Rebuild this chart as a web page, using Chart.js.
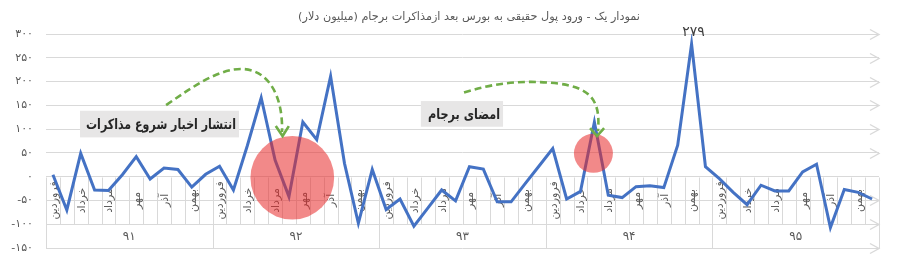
<!DOCTYPE html>
<html><head><meta charset="utf-8">
<script src="https://cdn.jsdelivr.net/npm/chart.js@4.4.1/dist/chart.umd.min.js"></script>
<style>html,body{margin:0;padding:0;background:#fff;} canvas{display:block;}</style>
</head><body>
<canvas id="c" width="900" height="268"></canvas>
<script>
const chartTitle = 'نمودار یک - ورود پول حقیقی به بورس بعد ازمذاکرات برجام (میلیون دلار)';
const months = ['فروردین','اردیبهشت','خرداد','تیر','مرداد','شهریور','مهر','آبان','آذر','دی','بهمن','اسفند'];
const years = ['۹۱','۹۲','۹۳','۹۴','۹۵'];
const values91 = [4, -70, 49, -28, -29, 4, 42, -5, 18, 15, -22, 5];
const values92 = [22, -28, 65, 166, 35, -42, 115, 78, 211, 28, -98, 15];
const values93 = [-69, -47, -104, -66, -28, -51, 21, 16, -53, -53, -15, 22];
const values94 = [59, -47, -31, 115, -39, -44, -21, -19, -23, 66, 279, 21];
const values95 = [-4, -33, -59, -18, -30, -30, 10, 26, -107, -27, -33, -47];
const yTicks = [300, 250, 200, 150, 100, 50, 0, -50, -100, -150];
const yTickLabels = ['۳۰۰','۲۵۰','۲۰۰','۱۵۰','۱۰۰','۵۰','۰','-۵۰','-۱۰۰','-۱۵۰'];
const shownMonths = [0, 2, 4, 6, 8, 10];
const peakLabel = '۲۷۹';
const note1 = 'انتشار اخبار شروع مذاکرات';
const note2 = 'امضای برجام';

const allValues = [].concat(values91, values92, values93, values94, values95);
const labels = [];
years.forEach(yr => months.forEach(m => labels.push(m + ' ' + yr)));
const peakIndex = allValues.indexOf(Math.max(...allValues));

const FA = '"DejaVu Sans", "Noto Sans", sans-serif';
const GRID = '#d9d9d9';

function fitSize(ctx, text, weight, target, base) {
  ctx.font = weight + ' ' + base + 'px ' + FA;
  const w = ctx.measureText(text).width;
  return Math.max(8, Math.min(base * 1.4, base * target / w));
}

const deco = {
  id: 'deco',
  beforeDatasetsDraw(chart) {
    const {ctx, chartArea: a, scales: {x, y}} = chart;
    const n = allValues.length;
    const y0 = Math.round(y.getPixelForValue(0)) + 0.5;
    const y100 = Math.round(y.getPixelForValue(-100)) + 0.5;
    const y150 = Math.round(y.getPixelForValue(-150)) + 0.5;
    ctx.save();
    ctx.strokeStyle = GRID; ctx.lineWidth = 1;
    ctx.beginPath();
    for (let i = 0; i <= n; i++) {
      const px = Math.round(x.getPixelForValue(i - 0.5)) + 0.5;
      ctx.moveTo(px, y0);
      ctx.lineTo(px, (i % 12 === 0) ? y150 : y100);
    }
    ctx.stroke();
    // arrow heads on gridlines
    ctx.lineWidth = 1.4;
    yTicks.forEach(v => {
      if (v === 0) return;
      const py = Math.round(y.getPixelForValue(v)) + 0.5;
      ctx.beginPath();
      ctx.moveTo(a.right - 9, py - 5);
      ctx.lineTo(a.right, py);
      ctx.lineTo(a.right - 9, py + 5);
      ctx.stroke();
    });
    // month labels
    ctx.fillStyle = '#595959';
    ctx.font = '11px ' + FA;
    ctx.direction = 'rtl';
    ctx.textAlign = 'center';
    ctx.textBaseline = 'middle';
    const ym = y.getPixelForValue(-50);
    for (let i = 0; i < n; i++) {
      const mi = i % 12;
      if (!shownMonths.includes(mi)) continue;
      ctx.save();
      ctx.translate(x.getPixelForValue(i) + 1, ym);
      ctx.rotate(-Math.PI / 2);
      ctx.fillText(months[mi], 0, 0);
      ctx.restore();
    }
    // year labels
    ctx.font = '12px ' + FA;
    const yy = y.getPixelForValue(-125) + 1;
    years.forEach((yr, k) => {
      const cx = (x.getPixelForValue(k * 12 - 0.5) + x.getPixelForValue(k * 12 + 11.5)) / 2;
      ctx.fillText(yr, cx, yy);
    });
    // title
    const ts = fitSize(ctx, chartTitle, 'normal', 342, 12);
    ctx.font = ts + 'px ' + FA;
    ctx.fillText(chartTitle, chart.width / 2 + 19, 17);
    ctx.restore();
  },
  afterDatasetsDraw(chart) {
    const {ctx, scales: {x, y}} = chart;
    const P = (i, v) => [x.getPixelForValue(i), y.getPixelForValue(v)];
    const unit = Math.abs(y.getPixelForValue(0) - y.getPixelForValue(1));
    ctx.save();
    // circles
    ctx.fillStyle = 'rgba(232, 40, 40, 0.55)';
    [[17.24, -2.3, 88], [38.93, 49, 41]].forEach(([i, v, r]) => {
      const [cx, cy] = P(i, v);
      ctx.beginPath(); ctx.arc(cx, cy, r * unit, 0, Math.PI * 2); ctx.fill();
    });
    // green dashed arrows
    const arrows = [
      {pts: [[8.15,150.5],[10.24,192.6],[12.04,228.4],[13.69,226.3],[15.49,224.1],[16.58,171.6],[16.5,93.8]],
       tip: [16.54,85.4], arms: [[16.05,106.4],[16.99,106.4]]},
      {pts: [[29.61,176.8],[31.48,194.7],[33.28,201.0],[35.09,198.9],[38.54,194.7],[39.48,169.5],[39.26,95.9]],
       tip: [39.19,85.4], arms: [[38.69,102.2],[39.70,102.2]]}
    ];
    ctx.strokeStyle = '#70ad47';
    ctx.lineWidth = 2.6;
    arrows.forEach(ar => {
      const p = ar.pts.map(q => P(q[0], q[1]));
      ctx.setLineDash([7, 4]);
      ctx.beginPath();
      ctx.moveTo(p[0][0], p[0][1]);
      ctx.bezierCurveTo(p[1][0], p[1][1], p[2][0], p[2][1], p[3][0], p[3][1]);
      ctx.bezierCurveTo(p[4][0], p[4][1], p[5][0], p[5][1], p[6][0], p[6][1]);
      ctx.stroke();
      ctx.setLineDash([]);
      const t = P(ar.tip[0], ar.tip[1]);
      const l = P(ar.arms[0][0], ar.arms[0][1]);
      const r = P(ar.arms[1][0], ar.arms[1][1]);
      ctx.beginPath();
      ctx.moveTo(l[0], l[1]); ctx.lineTo(t[0], t[1]); ctx.lineTo(r[0], r[1]);
      ctx.stroke();
    });
    // note boxes
    const boxes = [
      {text: note1, i0: 1.95, i1: 13.4, v0: 138.6, v1: 82.6, tw: 150},
      {text: note2, i0: 26.5, i1: 32.42, v0: 159, v1: 105, tw: 72}
    ];
    boxes.forEach(b => {
      const [x0, yT] = P(b.i0, b.v0);
      const [x1, yB] = P(b.i1, b.v1);
      ctx.fillStyle = '#e7e6e6';
      ctx.fillRect(x0, yT, x1 - x0, yB - yT);
      ctx.font = 'bold 14px ' + FA;
      const w = ctx.measureText(b.text).width;
      const sx = Math.min(1, b.tw / w);
      ctx.fillStyle = '#262626';
      ctx.direction = 'rtl';
      ctx.textAlign = 'right';
      ctx.textBaseline = 'middle';
      ctx.save();
      ctx.translate(x1 - 3, (yT + yB) / 2 + 1);
      ctx.scale(sx, 1);
      ctx.fillText(b.text, 0, 0);
      ctx.restore();
    });
    // peak label
    const [px, py] = P(peakIndex, allValues[peakIndex]);
    ctx.font = '14px ' + FA;
    ctx.fillStyle = '#404040';
    ctx.textAlign = 'center';
    ctx.textBaseline = 'middle';
    ctx.fillText(peakLabel, px + 2, py - 12);
    ctx.restore();
  }
};

new Chart(document.getElementById('c'), {
  type: 'line',
  data: {
    labels: labels,
    datasets: [{
      data: allValues,
      borderColor: '#4472c4',
      borderWidth: 3,
      pointRadius: 0,
      tension: 0,
      fill: false,
      borderJoinStyle: 'miter'
    }]
  },
  options: {
    responsive: false,
    animation: false,
    devicePixelRatio: 1,
    layout: {padding: {top: 34, bottom: 20, left: 0, right: 21}},
    plugins: {legend: {display: false}, tooltip: {enabled: false}, title: {display: false}},
    scales: {
      x: {display: false, offset: true},
      y: {
        min: -150, max: 300,
        afterFit: s => { s.width = 46; },
        afterBuildTicks: s => { s.ticks = yTicks.slice().reverse().map(v => ({value: v})); },
        ticks: {
          padding: 13,
          color: '#595959',
          font: {family: 'DejaVu Sans', size: 11},
          callback: v => yTickLabels[yTicks.indexOf(v)]
        },
        grid: {color: GRID, lineWidth: 1, drawTicks: false},
        border: {display: false}
      }
    }
  },
  plugins: [deco]
});
</script>
</body></html>
